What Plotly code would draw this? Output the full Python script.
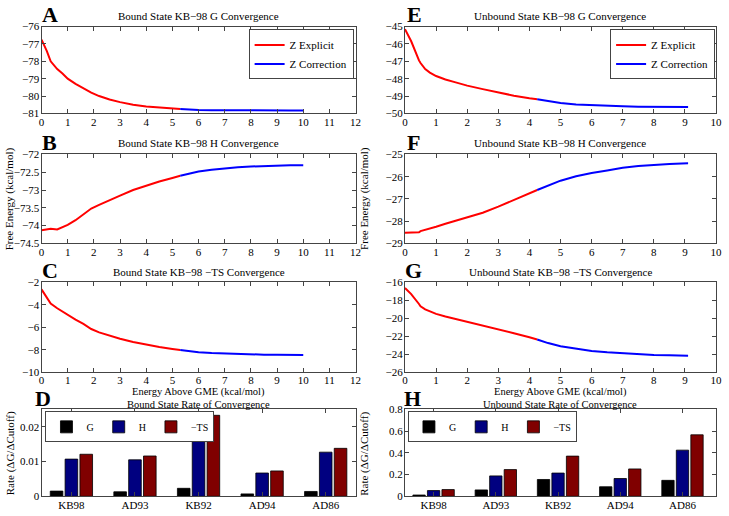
import plotly.graph_objects as go

# bound state (KB-98), explicit Z part and correction part
bound_x_exp = [0, 0.2, 0.35, 0.6, 0.8, 1.0, 1.3, 1.6, 1.9, 2.2, 2.6, 3.0, 3.5, 4.0, 4.5, 5.0, 5.3]
bound_g_exp = [-76.75, -77.4, -78.0, -78.45, -78.7, -79.0, -79.3, -79.55, -79.8, -80.0, -80.2, -80.35, -80.5,
               -80.6, -80.67, -80.72, -80.75]
bound_h_exp = [-74.13, -74.1, -74.09, -74.11, -74.04, -73.98, -73.85, -73.68, -73.52, -73.42, -73.3, -73.16,
               -73.0, -72.87, -72.76, -72.66, -72.6]
bound_ts_exp = [-2.62, -3.3, -3.88, -4.3, -4.6, -4.92, -5.32, -5.7, -6.15, -6.45, -6.75, -7.02, -7.3, -7.55,
                -7.75, -7.92, -8.02]
bound_x_cor = [5.3, 5.6, 6.0, 6.5, 7.0, 7.5, 8.0, 8.5, 9.0, 9.5, 10.0]
bound_g_cor = [-80.75, -80.78, -80.8, -80.81, -80.82, -80.83, -80.83, -80.83, -80.83, -80.83, -80.83]
bound_h_cor = [-72.6, -72.55, -72.48, -72.43, -72.39, -72.36, -72.34, -72.32, -72.31, -72.3, -72.3]
bound_ts_cor = [-8.02, -8.12, -8.22, -8.29, -8.34, -8.38, -8.41, -8.43, -8.44, -8.45, -8.46]

# unbound state (KB-98)
unb_x_exp = [0, 0.2, 0.45, 0.5, 0.65, 0.8, 1.0, 1.3, 1.6, 2.0, 2.5, 3.0, 3.5, 4.0, 4.25]
unb_g_exp = [-45.15, -45.85, -46.95, -47.1, -47.45, -47.65, -47.85, -48.05, -48.2, -48.4, -48.6, -48.8, -48.98,
             -49.13, -49.18]
unb_h_exp = [-28.52, -28.52, -28.5, -28.45, -28.38, -28.33, -28.25, -28.12, -28.0, -27.85, -27.62, -27.35, -27.05,
             -26.75, -26.6]
unb_ts_exp = [-16.62, -17.3, -18.4, -18.65, -19.0, -19.25, -19.5, -19.8, -20.05, -20.35, -20.75, -21.2, -21.65,
              -22.1, -22.35]
unb_x_cor = [4.25, 4.6, 5.0, 5.5, 6.0, 6.5, 7.0, 7.5, 8.0, 8.5, 9.1]
unb_g_cor = [-49.18, -49.3, -49.4, -49.48, -49.53, -49.56, -49.59, -49.61, -49.62, -49.63, -49.63]
unb_h_cor = [-26.6, -26.4, -26.18, -25.98, -25.83, -25.72, -25.6, -25.52, -25.47, -25.43, -25.4]
unb_ts_cor = [-22.35, -22.75, -23.1, -23.4, -23.62, -23.78, -23.9, -24.0, -24.07, -24.1, -24.15]

# rate of convergence
systems = ['KB98', 'AD93', 'KB92', 'AD94', 'AD86']
bound_rate_g = [0.0015, 0.0013, 0.0023, 0.0007, 0.0014]
bound_rate_h = [0.0107, 0.0105, 0.0211, 0.0067, 0.0127]
bound_rate_ts = [0.0121, 0.0116, 0.0233, 0.0073, 0.0138]
unb_rate_g = [0.012, 0.059, 0.155, 0.088, 0.147]
unb_rate_h = [0.053, 0.188, 0.214, 0.164, 0.425]
unb_rate_ts = [0.062, 0.246, 0.37, 0.252, 0.566]

W, H = 729, 516
serif = 'Liberation Serif, Times New Roman, serif'
axis_color = '#444444'
red = '#ff0000'
blue = '#0000ff'
bar_colors = ['#000000', '#000080', '#800000']


def px(x):
    return x / W


def py(y):
    return 1 - y / H


fig = go.Figure()

line_panels = [
    # (axis number, x exp, y exp, x cor, y cor, legend)
    (1, bound_x_exp, bound_g_exp, bound_x_cor, bound_g_cor, 'legend'),
    (2, unb_x_exp, unb_g_exp, unb_x_cor, unb_g_cor, 'legend2'),
    (3, bound_x_exp, bound_h_exp, bound_x_cor, bound_h_cor, None),
    (4, unb_x_exp, unb_h_exp, unb_x_cor, unb_h_cor, None),
    (5, bound_x_exp, bound_ts_exp, bound_x_cor, bound_ts_cor, None),
    (6, unb_x_exp, unb_ts_exp, unb_x_cor, unb_ts_cor, None),
]

for n, xe, ye, xc, yc, leg in line_panels:
    xa = 'x' if n == 1 else f'x{n}'
    ya = 'y' if n == 1 else f'y{n}'
    fig.add_trace(go.Scatter(x=xe, y=ye, mode='lines', name='Z Explicit', line=dict(color=red, width=2),
                             xaxis=xa, yaxis=ya, showlegend=leg is not None, legend=leg or 'legend'))
    fig.add_trace(go.Scatter(x=xc, y=yc, mode='lines', name='Z Correction', line=dict(color=blue, width=2),
                             xaxis=xa, yaxis=ya, showlegend=leg is not None, legend=leg or 'legend'))

for n, vals, leg in [(7, [bound_rate_g, bound_rate_h, bound_rate_ts], 'legend3'),
                     (8, [unb_rate_g, unb_rate_h, unb_rate_ts], 'legend4')]:
    for name, v, c in zip(['G', 'H', '−TS'], vals, bar_colors):
        fig.add_trace(go.Bar(x=systems, y=v, name=name, marker=dict(color=c, line=dict(color='black', width=0.8)),
                             xaxis=f'x{n}', yaxis=f'y{n}', legend=leg))

axis_style = dict(showline=True, linecolor=axis_color, linewidth=1, mirror='ticks', ticks='inside',
                  ticklen=4, tickcolor=axis_color, showgrid=False, zeroline=False,
                  tickfont=dict(family=serif, size=11, color='black'))

left = [39, 357]
right = [407, 722]
rows = [[21, 110], [152, 243], [283, 375], [413, 502]]

layout = {}
for i in range(8):
    n = i + 1
    col = left if i % 2 == 0 else right
    r = rows[i // 2]
    xkey = 'xaxis' if n == 1 else f'xaxis{n}'
    ykey = 'yaxis' if n == 1 else f'yaxis{n}'
    ya = 'y' if n == 1 else f'y{n}'
    xa = 'x' if n == 1 else f'x{n}'
    layout[xkey] = dict(domain=[px(col[0]), px(col[1])], anchor=ya, ticklabelstandoff=-2, **axis_style)
    layout[ykey] = dict(domain=[py(r[1]), py(r[0])], anchor=xa, ticklabelstandoff=-1, **axis_style)

for n in (1, 3, 5):
    layout['xaxis' if n == 1 else f'xaxis{n}'].update(range=[0, 12], dtick=1)
for n in (2, 4, 6):
    layout[f'xaxis{n}'].update(range=[0, 10], dtick=1)

layout['yaxis'].update(range=[-81, -76], dtick=1)
layout['yaxis2'].update(range=[-50, -45], dtick=1)
layout['yaxis3'].update(range=[-74.5, -72], dtick=0.5)
layout['yaxis4'].update(range=[-29, -25], dtick=1)
layout['yaxis5'].update(range=[-10, -2], dtick=2)
layout['yaxis6'].update(range=[-26, -16], dtick=2)
layout['yaxis7'].update(range=[0, 0.025], tickvals=[0, 0.01, 0.02], ticktext=['0', '0.01', '0.02'])
layout['yaxis8'].update(range=[0, 0.8], tickvals=[0, 0.2, 0.4, 0.6, 0.8], ticktext=['0', '0.2', '0.4', '0.6', '0.8'])
layout['xaxis7'].update(range=[-0.47, 4.47])
layout['xaxis8'].update(range=[-0.46, 4.54])

legend_style = dict(bgcolor='white', bordercolor=axis_color, borderwidth=1, itemwidth=30, tracegroupgap=0)
font11 = dict(family=serif, size=11, color='black')
font10 = dict(family=serif, size=10, color='black')

fig.update_layout(
    width=W, height=H,
    margin=dict(l=0, r=0, t=0, b=0),
    paper_bgcolor='white', plot_bgcolor='white',
    font=font11,
    showlegend=True,
    barmode='group', bargap=0.3, bargroupgap=0.15,
    legend=dict(x=px(355), y=py(24), xanchor='right', yanchor='top', font=font11, **legend_style),
    legend2=dict(x=px(721), y=py(24), xanchor='right', yanchor='top', font=font11, **legend_style),
    legend3=dict(x=px(43), y=py(415), xanchor='left', yanchor='top', orientation='h', font=font10,
                 **legend_style),
    legend4=dict(x=px(410), y=py(415), xanchor='left', yanchor='top', orientation='h', font=font10,
                 **legend_style),
    **layout,
)

annotations = []
letters = [('A', 48, 9), ('E', 417, 9), ('B', 47, 140), ('F', 416, 140),
           ('C', 48, 271), ('G', 416, 271), ('D', 40, 402), ('H', 415, 402)]
for t, x, y in letters:
    annotations.append(dict(text=f'<b>{t}</b>', x=px(x), y=py(y), xref='paper', yref='paper', showarrow=False,
                            xanchor='center', yanchor='middle', font=dict(family=serif, size=22, color='black')))

titles = [('Bound State KB−98 G Convergence', 198, 10, 11), ('Unbound State KB−98 G Convergence', 564, 10, 11),
          ('Bound State KB−98 H Convergence', 198, 140, 11), ('Unbound State KB−98 H Convergence', 564, 140, 11),
          ('Bound State KB−98 −TS Convergence', 198, 272, 11), ('Unbound State KB−98 −TS Convergence', 564, 272, 11),
          ('Energy Above GME (kcal/mol)', 198, 395, 10.5), ('Energy Above GME (kcal/mol)', 564, 395, 10.5),
          ('Bound State Rate of Convergence', 198, 407.5, 10.5), ('Unbound State Rate of Convergence', 564, 407.5, 10.5)]
for t, x, y, s in titles:
    annotations.append(dict(text=t, x=px(x), y=py(y), xref='paper', yref='paper', showarrow=False,
                            xanchor='center', yanchor='middle', font=dict(family=serif, size=s, color='black')))

ylabels = [('Free Energy (kcal/mol)', 7, 197), ('Free Energy (kcal/mol)', 366, 197),
           ('Rate (ΔG/ΔCutoff)', 7, 458), ('Rate (ΔG/ΔCutoff)', 366, 458)]
for t, x, y in ylabels:
    annotations.append(dict(text=t, x=px(x), y=py(y), xref='paper', yref='paper', showarrow=False, textangle=-90,
                            xanchor='center', yanchor='middle', font=font11))

fig.update_layout(annotations=annotations)

# drop the default page margin so the figure sits at the window's corner
fig.write_html("out.html", config={'displayModeBar': False},
               post_script="document.body.style.margin='0px';")
